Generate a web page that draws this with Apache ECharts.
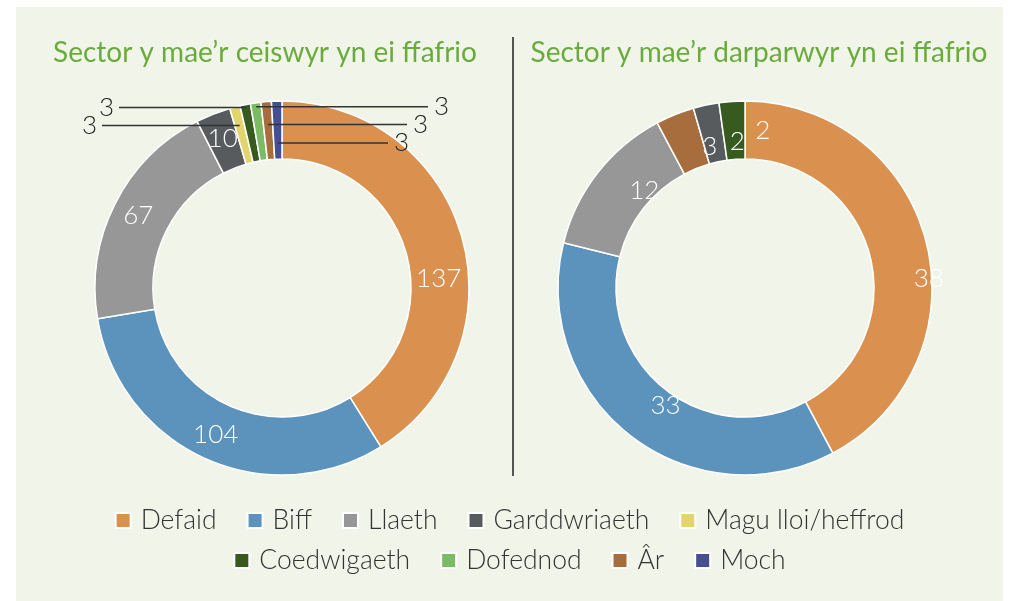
<!DOCTYPE html>
<html>
<head>
<meta charset="utf-8">
<script src="https://cdn.jsdelivr.net/npm/echarts@6/dist/echarts.min.js"></script>
<style>
  html, body { margin: 0; padding: 0; background: #fff; }
  #main { width: 1019px; height: 601px; }
</style>
</head>
<body>
<div id="main"></div>
<script>
// data
var applicantNames = ['Defaid', 'Biff', 'Llaeth', 'Garddwriaeth', 'Magu lloi/heffrod', 'Coedwigaeth', 'Dofednod', 'Âr', 'Moch'];
var applicantValues = [137, 104, 67, 10, 3, 3, 3, 3, 3];
var providerNames = ['Defaid', 'Biff', 'Llaeth', 'Âr', 'Garddwriaeth', 'Coedwigaeth'];
var providerValues = [38, 33, 12, 3, 2, 2];
var legendRow1 = ['Defaid', 'Biff', 'Llaeth', 'Garddwriaeth', 'Magu lloi/heffrod'];
var legendRow2 = ['Coedwigaeth', 'Dofednod', 'Âr', 'Moch'];

var colors = {
  'Defaid': '#da914f',
  'Biff': '#5b93bc',
  'Llaeth': '#979797',
  'Garddwriaeth': '#575b5d',
  'Magu lloi/heffrod': '#e3d56e',
  'Coedwigaeth': '#375a1f',
  'Dofednod': '#7bbb63',
  'Âr': '#a86d3d',
  'Moch': '#44508f'
};

var FONT = 'Lato';
var leftCenter = [282, 288];
var rightCenter = [745, 288];
var radius = [129, 187];

// label spots that Excel put somewhere other than the slice middle: [angle, radius]
var leftSpots = { 0: [86.7, 157] };
var rightSpots = { 0: [87, 184], 1: [214, 142], 2: [314, 140], 3: [346, 146], 4: [357, 147], 5: [6.5, 158] };
// small slices with leader lines (left chart)
var leaders = {
  4: { r: 168, end: 102, side: 'left' },
  5: { r: 184, end: 119, side: 'left' },
  6: { r: 183, end: 428, side: 'right' },
  7: { r: 164, end: 407, side: 'right' },
  8: { r: 145, end: 388, side: 'right' }
};

function midAngles(values) {
  var total = values.reduce(function (a, b) { return a + b; }, 0);
  var cum = 0;
  return values.map(function (v) {
    var a = (cum + v / 2) / total * 360;
    cum += v;
    return a;
  });
}

function polar(center, ang, r) {
  var t = ang * Math.PI / 180;
  return [center[0] + r * Math.sin(t), center[1] - r * Math.cos(t)];
}

function makeLayout(center, values, spots, lead) {
  var mids = midAngles(values);
  return function (params) {
    var i = params.dataIndex;
    if (lead && lead[i]) {
      var l = lead[i];
      var p = polar(center, mids[i], l.r);
      var left = l.side === 'left';
      return {
        x: left ? l.end - 5 : l.end + 6,
        y: p[1],
        align: left ? 'right' : 'left',
        verticalAlign: 'middle',
        labelLinePoints: [[p[0], p[1]], [(p[0] + l.end) / 2, p[1]], [l.end, p[1]]]
      };
    }
    if (spots && spots[i]) {
      var q = polar(center, spots[i][0], spots[i][1]);
      return { x: q[0], y: q[1], align: 'center', verticalAlign: 'middle' };
    }
  };
}

function buildData(names, values) {
  return names.map(function (n, i) {
    return { name: n, value: values[i], itemStyle: { color: colors[n] } };
  });
}

// invisible copy of the slices, only carrying the leader-line labels so they sit on top
function buildLeaderData(names, values, lead) {
  return names.map(function (n, i) {
    var item = { name: n, value: values[i] };
    if (lead[i]) {
      item.label = { show: true };
      item.labelLine = { show: true };
    }
    return item;
  });
}

var labelStyle = {
  position: 'inside',
  formatter: '{c}',
  fontFamily: FONT,
  fontWeight: 300,
  fontSize: 26,
  color: '#fff'
};

var myChart = echarts.init(document.getElementById('main'));

function legendItems(names) {
  return names.map(function (n) {
    return { name: n, itemStyle: { color: colors[n] } };
  });
}

var legendBase = {
  left: 'center',
  icon: 'rect',
  itemWidth: 15,
  itemHeight: 15,
  itemGap: 30,
  selectedMode: false,
  textStyle: {
    fontFamily: FONT,
    fontWeight: 300,
    fontSize: 26.5,
    lineHeight: 26,
    color: '#333',
    padding: [0, 0, 0, 5]
  }
};

var option = {
  animation: false,
  graphic: [
    { type: 'rect', shape: { x: 16, y: 7, width: 987, height: 594 }, style: { fill: '#f0f4e9' }, z: -10 },
    { type: 'line', shape: { x1: 513, y1: 37, x2: 513, y2: 476 }, style: { stroke: '#222', lineWidth: 1.5 } }
  ],
  title: [
    {
      text: 'Sector y mae’r ceiswyr yn ei ffafrio',
      left: 260, top: 34, textAlign: 'center',
      textStyle: { fontFamily: FONT, fontWeight: 400, fontSize: 28, color: '#6aac3b' }
    },
    {
      text: 'Sector y mae’r darparwyr yn ei ffafrio',
      left: 754, top: 34, textAlign: 'center',
      textStyle: { fontFamily: FONT, fontWeight: 400, fontSize: 28, color: '#6aac3b' }
    }
  ],
  legend: [
    Object.assign({}, legendBase, { data: legendItems(legendRow1), top: 502 }),
    Object.assign({}, legendBase, { data: legendItems(legendRow2), top: 542 })
  ],
  series: [
    {
      name: 'ceiswyr',
      type: 'pie',
      center: leftCenter,
      radius: radius,
      startAngle: 90,
      itemStyle: { borderColor: '#fff', borderWidth: 1.5 },
      label: Object.assign({}, labelStyle, {
        formatter: function (p) { return leaders[p.dataIndex] ? '' : String(p.value); }
      }),
      labelLine: { show: false },
      labelLayout: makeLayout(leftCenter, applicantValues, leftSpots, null),
      data: buildData(applicantNames, applicantValues)
    },
    {
      name: 'ceiswyr-labels',
      type: 'pie',
      z: 5,
      silent: true,
      center: leftCenter,
      radius: radius,
      startAngle: 90,
      itemStyle: { color: 'rgba(0,0,0,0)', borderWidth: 0 },
      label: Object.assign({}, labelStyle, { show: false, position: 'outside', color: '#222' }),
      labelLine: { show: false, lineStyle: { color: '#333', width: 1.5 } },
      labelLayout: makeLayout(leftCenter, applicantValues, null, leaders),
      data: buildLeaderData(applicantNames, applicantValues, leaders)
    },
    {
      name: 'darparwyr',
      type: 'pie',
      center: rightCenter,
      radius: radius,
      startAngle: 90,
      itemStyle: { borderColor: '#fff', borderWidth: 1.5 },
      label: labelStyle,
      labelLine: { show: false },
      labelLayout: makeLayout(rightCenter, providerValues, rightSpots, null),
      data: buildData(providerNames, providerValues)
    }
  ]
};

myChart.setOption(option);
window.onresize = myChart.resize;
</script>
</body>
</html>
